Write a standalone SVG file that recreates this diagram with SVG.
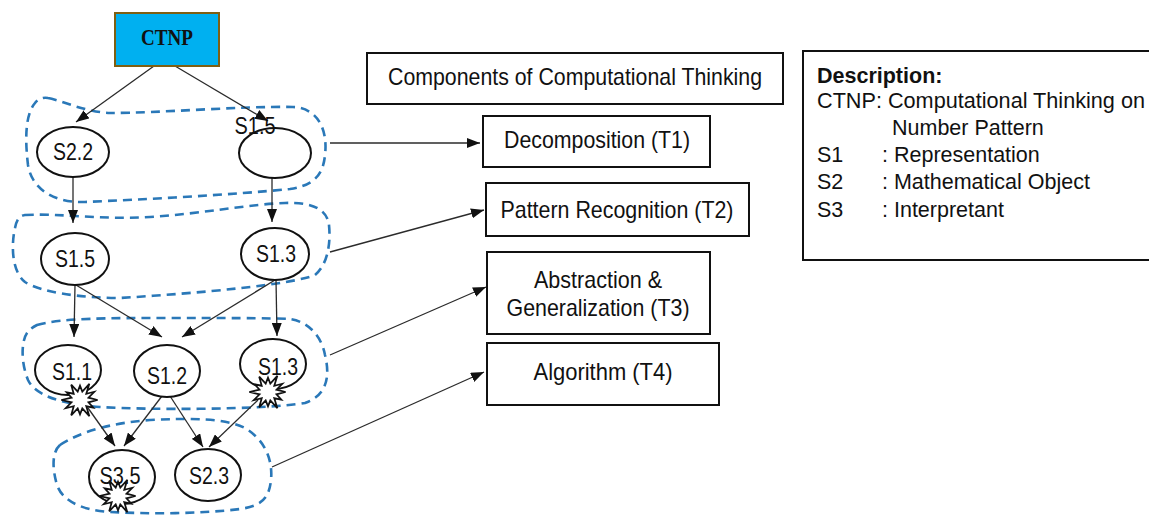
<svg xmlns="http://www.w3.org/2000/svg" xmlns:xlink="http://www.w3.org/1999/xlink" width="1149" height="515" viewBox="0 0 1149 515">
  <style>
    .edge { stroke: #2b2b2b; stroke-width: 1.3; fill: none; marker-end: url(#arrow); }
    .blob { fill: none; stroke: #2a78b8; stroke-width: 2.6; stroke-dasharray: 9 6; }
    .node { fill: #ffffff; stroke: #111111; stroke-width: 2; }
    .box { fill: #ffffff; stroke: #111111; stroke-width: 2; }
    .burst { fill: #ffffff; stroke: #111111; stroke-width: 1.6; stroke-linejoin: miter; }
    .lbl { font-family: "Liberation Sans", Arial, sans-serif; font-size: 24px; fill: #111111; text-anchor: middle; }
    .btxt { font-family: "Liberation Sans", Arial, sans-serif; font-size: 24px; fill: #111111; text-anchor: middle; }
    .desc { font-family: "Liberation Sans", Arial, sans-serif; font-size: 21.5px; fill: #111111; }
  </style>
  <defs>
    <marker id="arrow" markerUnits="userSpaceOnUse" markerWidth="13" markerHeight="10" refX="13" refY="5" orient="auto">
      <path d="M0,0 L13,5 L0,10 Z" fill="#111111"/>
    </marker>
    <!-- jagged burst used to mark a node -->
    <polygon id="burst" transform="scale(1.1)" points="16,0 7.7,2.1 12.1,7 5.7,5.7 8.5,14.7 2.1,7.7 0,13 -2.1,7.7 -8,13.9 -5.7,5.7 -13,7.5 -7.7,2.1 -17,0 -7.7,-2.1 -12.1,-7 -5.7,-5.7 -8,-13.9 -2.1,-7.7 0,-13 2.1,-7.7 8.5,-14.7 5.7,-5.7 13,-7.5 7.7,-2.1"/>
  </defs>

  <rect width="1149" height="515" fill="#ffffff"/>

  <!-- dashed groupings of the semiotic chain -->
  <g id="groups">
    <path class="blob" d="M48,98 C60,100 85,112 110,113 C160,113 240,106 293,107 C318,108 328,130 325,155 C323,178 310,186 290,189 C230,195 150,199 85,202 C55,203 32,190 28,165 C25,140 25,115 35,103 C38,99 43,97 48,98 Z"/>
    <path class="blob" d="M25,215 C60,213 100,220 150,217 C200,214 250,204 285,203 C310,202 327,208 329,225 C331,245 327,265 315,275 C290,285 200,293 120,298 C80,298 40,292 25,282 C10,270 12,240 15,228 C17,218 20,216 25,215 Z"/>
    <path class="blob" d="M37,325 C60,318 110,318 167,318 C220,318 270,318 290,319 C310,322 322,338 325,355 C330,375 328,395 305,403 C260,410 150,410 100,407 C60,404 35,395 28,380 C20,360 22,340 27,333 C30,329 33,327 37,325 Z"/>
    <path class="blob" d="M60,445 C80,432 110,423 150,420 C190,418 225,418 245,428 C265,440 273,460 271,480 C269,500 260,506 240,509 C200,514 150,514 110,512 C80,510 62,500 57,485 C52,468 52,452 60,445 Z"/>
  </g>

  <!-- connectors -->
  <g id="connectors">
    <line class="edge" x1="154" y1="66" x2="76" y2="122"/>
    <line class="edge" x1="175" y1="66" x2="268" y2="121"/>
    <line class="edge" x1="73" y1="177" x2="73" y2="223"/>
    <line class="edge" x1="272" y1="178" x2="272" y2="222"/>
    <line class="edge" x1="75" y1="285" x2="74" y2="337"/>
    <line class="edge" x1="76" y1="285" x2="162" y2="337"/>
    <line class="edge" x1="275" y1="280" x2="182" y2="337"/>
    <line class="edge" x1="276" y1="280" x2="277" y2="336"/>
    <line class="edge" x1="88" y1="408" x2="115" y2="446"/>
    <line class="edge" x1="162" y1="396" x2="124" y2="446"/>
    <line class="edge" x1="170" y1="396" x2="203" y2="447"/>
    <line class="edge" x1="258" y1="400" x2="209" y2="447"/>
    <line class="edge" x1="330" y1="143" x2="480" y2="143"/>
    <line class="edge" x1="330" y1="252" x2="484" y2="210"/>
    <line class="edge" x1="330" y1="355" x2="486" y2="287"/>
    <line class="edge" x1="272" y1="467" x2="484" y2="372"/>
  </g>

  <!-- root -->
  <g id="ctnp">
    <rect x="115" y="13" width="104" height="53" fill="#00b0f0" stroke="#7f5f12" stroke-width="2"/>
    <text x="167" y="45" font-family="'Liberation Serif', 'Times New Roman', serif" font-weight="bold" font-size="23" fill="#111111" text-anchor="middle" textLength="52" lengthAdjust="spacingAndGlyphs">CTNP</text>
  </g>

  <!-- level 1 -->
  <g id="n-s22">
    <ellipse class="node" cx="73" cy="152" rx="36" ry="25"/>
    <text class="lbl" x="73" y="160" textLength="40" lengthAdjust="spacingAndGlyphs">S2.2</text>
  </g>
  <g id="n-s15a">
    <ellipse class="node" cx="275" cy="153" rx="36" ry="25"/>
    <text class="lbl" x="255" y="134" textLength="41" lengthAdjust="spacingAndGlyphs">S1.5</text>
  </g>

  <!-- level 2 -->
  <g id="n-s15b">
    <ellipse class="node" cx="75" cy="259" rx="34" ry="26"/>
    <text class="lbl" x="75" y="267" textLength="40" lengthAdjust="spacingAndGlyphs">S1.5</text>
  </g>
  <g id="n-s13a">
    <ellipse class="node" cx="275" cy="254" rx="34" ry="26"/>
    <text class="lbl" x="276" y="262" textLength="40" lengthAdjust="spacingAndGlyphs">S1.3</text>
  </g>

  <!-- level 3 -->
  <g id="n-s11">
    <ellipse class="node" cx="68" cy="370" rx="33" ry="25"/>
    <text class="lbl" x="72" y="380" textLength="40" lengthAdjust="spacingAndGlyphs">S1.1</text>
    <use xlink:href="#burst" href="#burst" class="burst" x="80" y="400"/>
  </g>
  <g id="n-s12">
    <ellipse class="node" cx="167" cy="371" rx="33" ry="26"/>
    <text class="lbl" x="167" y="384" textLength="40" lengthAdjust="spacingAndGlyphs">S1.2</text>
  </g>
  <g id="n-s13b">
    <ellipse class="node" cx="273" cy="364" rx="33" ry="25"/>
    <text class="lbl" x="278" y="375" textLength="40" lengthAdjust="spacingAndGlyphs">S1.3</text>
    <use xlink:href="#burst" href="#burst" class="burst" x="268" y="392"/>
  </g>

  <!-- level 4 -->
  <g id="n-s35">
    <ellipse class="node" cx="122" cy="477" rx="33" ry="27"/>
    <text class="lbl" x="120" y="484" textLength="41" lengthAdjust="spacingAndGlyphs">S3.5</text>
    <use xlink:href="#burst" href="#burst" class="burst" x="118" y="496"/>
  </g>
  <g id="n-s23">
    <ellipse class="node" cx="208" cy="475" rx="33" ry="26"/>
    <text class="lbl" x="209" y="484" textLength="40" lengthAdjust="spacingAndGlyphs">S2.3</text>
  </g>

  <!-- components of computational thinking -->
  <g id="components">
    <rect class="box" x="367" y="53" width="416" height="51"/>
    <text class="btxt" x="575" y="85" textLength="374" lengthAdjust="spacingAndGlyphs">Components of Computational Thinking</text>
  </g>
  <g id="t1">
    <rect class="box" x="483" y="116" width="227" height="51"/>
    <text class="btxt" x="597" y="148" textLength="186" lengthAdjust="spacingAndGlyphs">Decomposition (T1)</text>
  </g>
  <g id="t2">
    <rect class="box" x="486" y="183" width="263" height="53"/>
    <text class="btxt" x="617" y="218" textLength="233" lengthAdjust="spacingAndGlyphs">Pattern Recognition (T2)</text>
  </g>
  <g id="t3">
    <rect class="box" x="487" y="252" width="223" height="82"/>
    <text class="btxt" x="598" y="288" textLength="128" lengthAdjust="spacingAndGlyphs">Abstraction &amp;</text>
    <text class="btxt" x="598" y="316" textLength="183" lengthAdjust="spacingAndGlyphs">Generalization (T3)</text>
  </g>
  <g id="t4">
    <rect class="box" x="487" y="343" width="232" height="62"/>
    <text class="btxt" x="603" y="380" textLength="139" lengthAdjust="spacingAndGlyphs">Algorithm (T4)</text>
  </g>

  <!-- legend -->
  <g id="description">
    <rect class="box" x="803" y="51" width="360" height="209"/>
    <text class="desc" x="817" y="83" font-weight="bold">Description:</text>
    <text class="desc" x="817" y="108" textLength="328" lengthAdjust="spacingAndGlyphs">CTNP: Computational Thinking on</text>
    <text class="desc" x="892" y="135">Number Pattern</text>
    <text class="desc" x="817" y="162">S1</text>
    <text class="desc" x="882" y="162">: Representation</text>
    <text class="desc" x="817" y="189">S2</text>
    <text class="desc" x="882" y="189">: Mathematical Object</text>
    <text class="desc" x="817" y="217">S3</text>
    <text class="desc" x="882" y="217">: Interpretant</text>
  </g>
</svg>
